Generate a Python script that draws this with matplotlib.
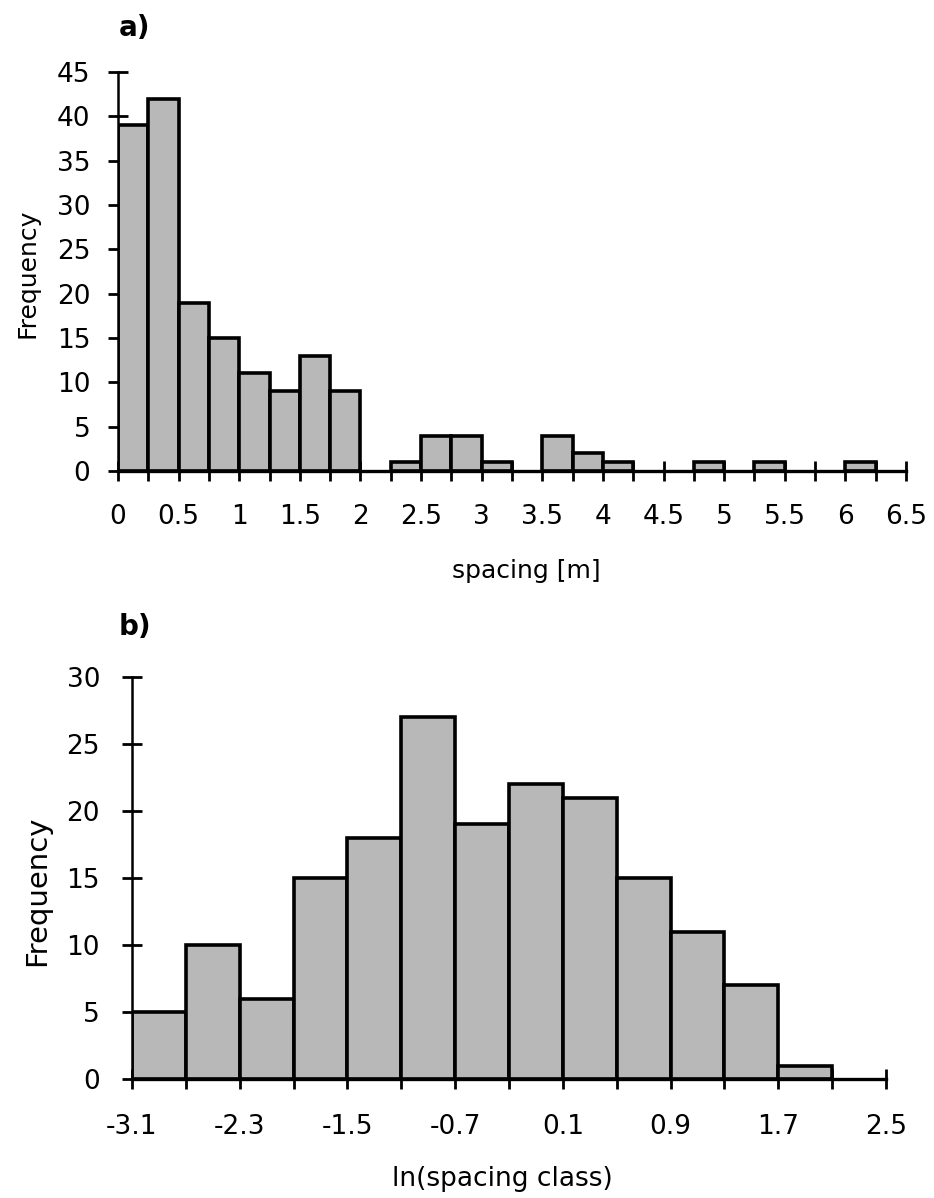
import numpy as np
import matplotlib
matplotlib.use("Agg")
import matplotlib.pyplot as plt

# ---- data ----
edges_a = [0.0, 0.25, 0.5, 0.75, 1.0, 1.25, 1.5, 1.75, 2.0, 2.25, 2.5, 2.75, 3.0,
           3.25, 3.5, 3.75, 4.0, 4.25, 4.5, 4.75, 5.0, 5.25, 5.5, 5.75, 6.0, 6.25, 6.5]
freq_a = [39, 42, 19, 15, 11, 9, 13, 9, 0, 1, 4, 4, 1, 0, 4, 2, 1, 0, 0, 1, 0, 1, 0, 0, 1, 0]
yticks_a = [0, 5, 10, 15, 20, 25, 30, 35, 40, 45]

edges_b = [-3.1, -2.7, -2.3, -1.9, -1.5, -1.1, -0.7, -0.3, 0.1, 0.5, 0.9, 1.3, 1.7, 2.1, 2.5]
freq_b = [5, 10, 6, 15, 18, 27, 19, 22, 21, 15, 11, 7, 1, 0]
yticks_b = [0, 5, 10, 15, 20, 25, 30]

W, H = 934, 1198
FONT = "DejaVu Sans"
FS = 19
BAR_COLOR = "#b8b8b8"

fig = plt.figure(figsize=(W / 100, H / 100), dpi=100)
fig.patch.set_facecolor("white")


def px_axes(left, top, right, bottom):
    return fig.add_axes([left / W, 1 - bottom / H, (right - left) / W, (bottom - top) / H])


def style(ax, edges, freq, yticks, xlabels, xpad, ypad):
    e = np.array(edges)
    f = np.array(freq)
    w = e[1] - e[0]
    m = f > 0
    ax.bar(e[:-1][m], f[m], width=w, align="edge", color=BAR_COLOR,
           edgecolor="black", linewidth=2.6, zorder=2)
    ax.set_xlim(e[0], e[-1])
    ax.set_ylim(0, yticks[-1])
    ax.set_xticks(e)
    ax.set_xticklabels(xlabels, fontsize=FS, family=FONT)
    ax.set_yticks(yticks)
    ax.set_yticklabels([str(v) for v in yticks], fontsize=FS, family=FONT)
    for s in ["top", "right"]:
        ax.spines[s].set_visible(False)
    ax.spines["left"].set_linewidth(1.8)
    ax.spines["bottom"].set_linewidth(2.4)
    ax.spines["left"].set_zorder(3)
    ax.spines["bottom"].set_zorder(3)
    ax.set_axisbelow(True)
    ax.tick_params(axis="x", direction="inout", length=15, width=2.0, pad=xpad)
    ax.tick_params(axis="y", direction="inout", length=14, width=2.0, pad=ypad)
    ax.set_facecolor("none")


# panel a
ax1 = px_axes(118, 72, 906, 471)
labels_a = [("%g" % v) if i % 2 == 0 else "" for i, v in enumerate(edges_a)]
style(ax1, edges_a, freq_a, yticks_a, labels_a, xpad=16, ypad=13)

# panel b
ax2 = px_axes(132, 677, 886, 1079)
labels_b = [("%.1f" % v) if i % 2 == 0 else "" for i, v in enumerate(edges_b)]
style(ax2, edges_b, freq_b, yticks_b, labels_b, xpad=18, ypad=16)


def ftext(x, y, s, **kw):
    fig.text(x / W, 1 - y / H, s, ha="center", va="center", family=FONT, **kw)


ftext(135, 28, "a)", fontsize=20, fontweight="bold")
ftext(135, 627, "b)", fontsize=20, fontweight="bold")
ftext(28, 273, "Frequency", fontsize=18, rotation=90)
ftext(37, 891, "Frequency", fontsize=21, rotation=90)
ftext(526, 571, "spacing [m]", fontsize=18)
ftext(502, 1179, "ln(spacing class)", fontsize=19)

fig.savefig("out.png", dpi=100)
